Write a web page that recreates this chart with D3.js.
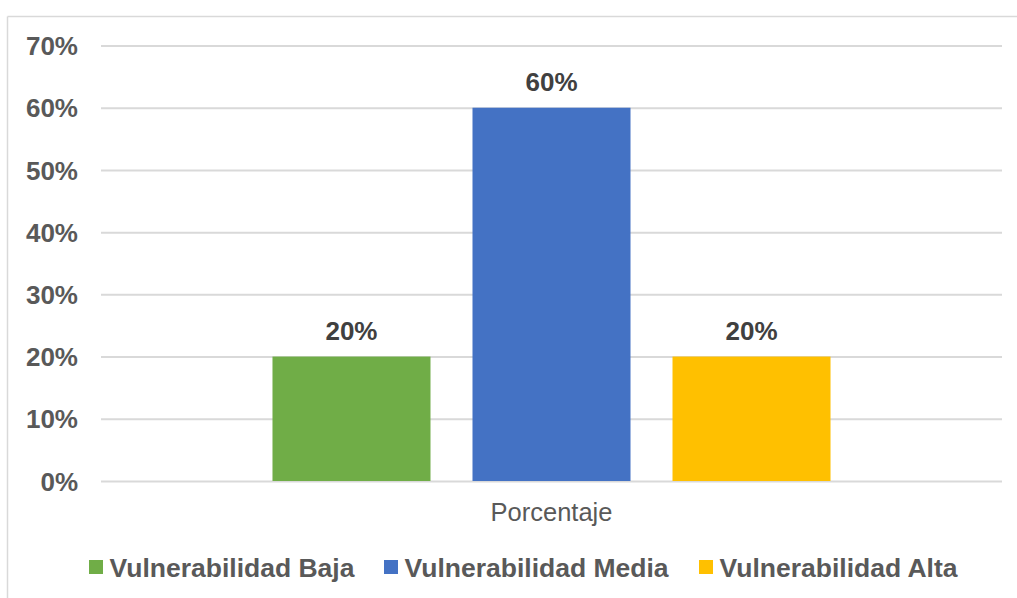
<!DOCTYPE html>
<html>
<head>
<meta charset="utf-8">
<script src="https://cdn.jsdelivr.net/npm/d3@7"></script>
<style>
  html, body { margin: 0; padding: 0; background: #ffffff; }
  svg { display: block; font-family: Arial, "Liberation Sans", sans-serif; }
</style>
</head>
<body>
<svg id="chart" width="1017" height="598"></svg>
<script>
// Data
const category = "Porcentaje";
const seriesNames = ["Vulnerabilidad Baja", "Vulnerabilidad Media", "Vulnerabilidad Alta"];
const seriesValues = [0.20, 0.60, 0.20];
const seriesColors = ["#70ad47", "#4472c4", "#ffc000"];
const yTicks = [0, 0.1, 0.2, 0.3, 0.4, 0.5, 0.6, 0.7];

const svg = d3.select("#chart");
const W = 1017, H = 598;

// Chart-area frame (only top and left edges fall inside the view)
svg.append("line").attr("x1", 7.5).attr("x2", 7.5).attr("y1", 16.5).attr("y2", H)
  .attr("stroke", "#d9d9d9").attr("stroke-width", 1.5);
svg.append("line").attr("x1", 7.5).attr("x2", W).attr("y1", 16.5).attr("y2", 16.5)
  .attr("stroke", "#d9d9d9").attr("stroke-width", 1.5);

const plot = { left: 101, right: 1002, top: 45.5, bottom: 481 };

const y = d3.scaleLinear().domain([0, 0.7]).range([plot.bottom, plot.top]);
const x0 = d3.scaleBand().domain([category]).range([plot.left, plot.right]).paddingInner(0).paddingOuter(0.3073);
const x1 = d3.scaleBand().domain(seriesNames).range([0, x0.bandwidth()]).paddingInner(0.21).paddingOuter(0);

// Gridlines via axis
const grid = svg.append("g").attr("transform", `translate(${plot.left},0)`)
  .call(d3.axisLeft(y).tickValues(yTicks).tickSize(-(plot.right - plot.left)).tickFormat(""));
grid.select(".domain").remove();
grid.selectAll(".tick line").attr("stroke", "#d9d9d9").attr("stroke-width", 2);

// Y tick labels
const yAxis = svg.append("g").attr("transform", `translate(${plot.left},0)`)
  .call(d3.axisLeft(y).tickValues(yTicks).tickSize(0).tickPadding(23).tickFormat(d3.format(".0%")));
yAxis.select(".domain").remove();
yAxis.selectAll("text")
  .attr("fill", "#595959").attr("font-size", "26px").attr("font-weight", "bold")
  .attr("font-family", "Arial, 'Liberation Sans', sans-serif").attr("dy", "0.35em");

// Bars
const bars = svg.append("g").attr("transform", `translate(${x0(category)},0)`);
bars.selectAll("rect").data(seriesNames).join("rect")
  .attr("x", d => x1(d))
  .attr("y", (d, i) => y(seriesValues[i]))
  .attr("width", x1.bandwidth())
  .attr("height", (d, i) => y(0) - y(seriesValues[i]))
  .attr("fill", (d, i) => seriesColors[i]);

// Value labels
bars.selectAll("text").data(seriesNames).join("text")
  .attr("x", d => x1(d) + x1.bandwidth() / 2)
  .attr("y", (d, i) => y(seriesValues[i]) - 16.5)
  .attr("text-anchor", "middle")
  .attr("fill", "#404040").attr("font-size", "26px").attr("font-weight", "bold")
  .text((d, i) => d3.format(".0%")(seriesValues[i]));

// X axis category label
svg.append("text")
  .attr("x", x0(category) + x0.bandwidth() / 2).attr("y", 521)
  .attr("text-anchor", "middle").attr("fill", "#595959").attr("font-size", "25.5px")
  .text(category);

// Legend
const legendX = [89, 384, 699];
const legend = svg.append("g");
const items = legend.selectAll("g").data(seriesNames).join("g")
  .attr("transform", (d, i) => `translate(${legendX[i]},0)`);
items.append("rect").attr("x", 0).attr("y", 560).attr("width", 14).attr("height", 14)
  .attr("fill", (d, i) => seriesColors[i]);
items.append("text").attr("x", 20.5).attr("y", 576.5)
  .attr("fill", "#595959").attr("font-size", "26.5px").attr("font-weight", "bold")
  .text(d => d);
</script>
</body>
</html>
